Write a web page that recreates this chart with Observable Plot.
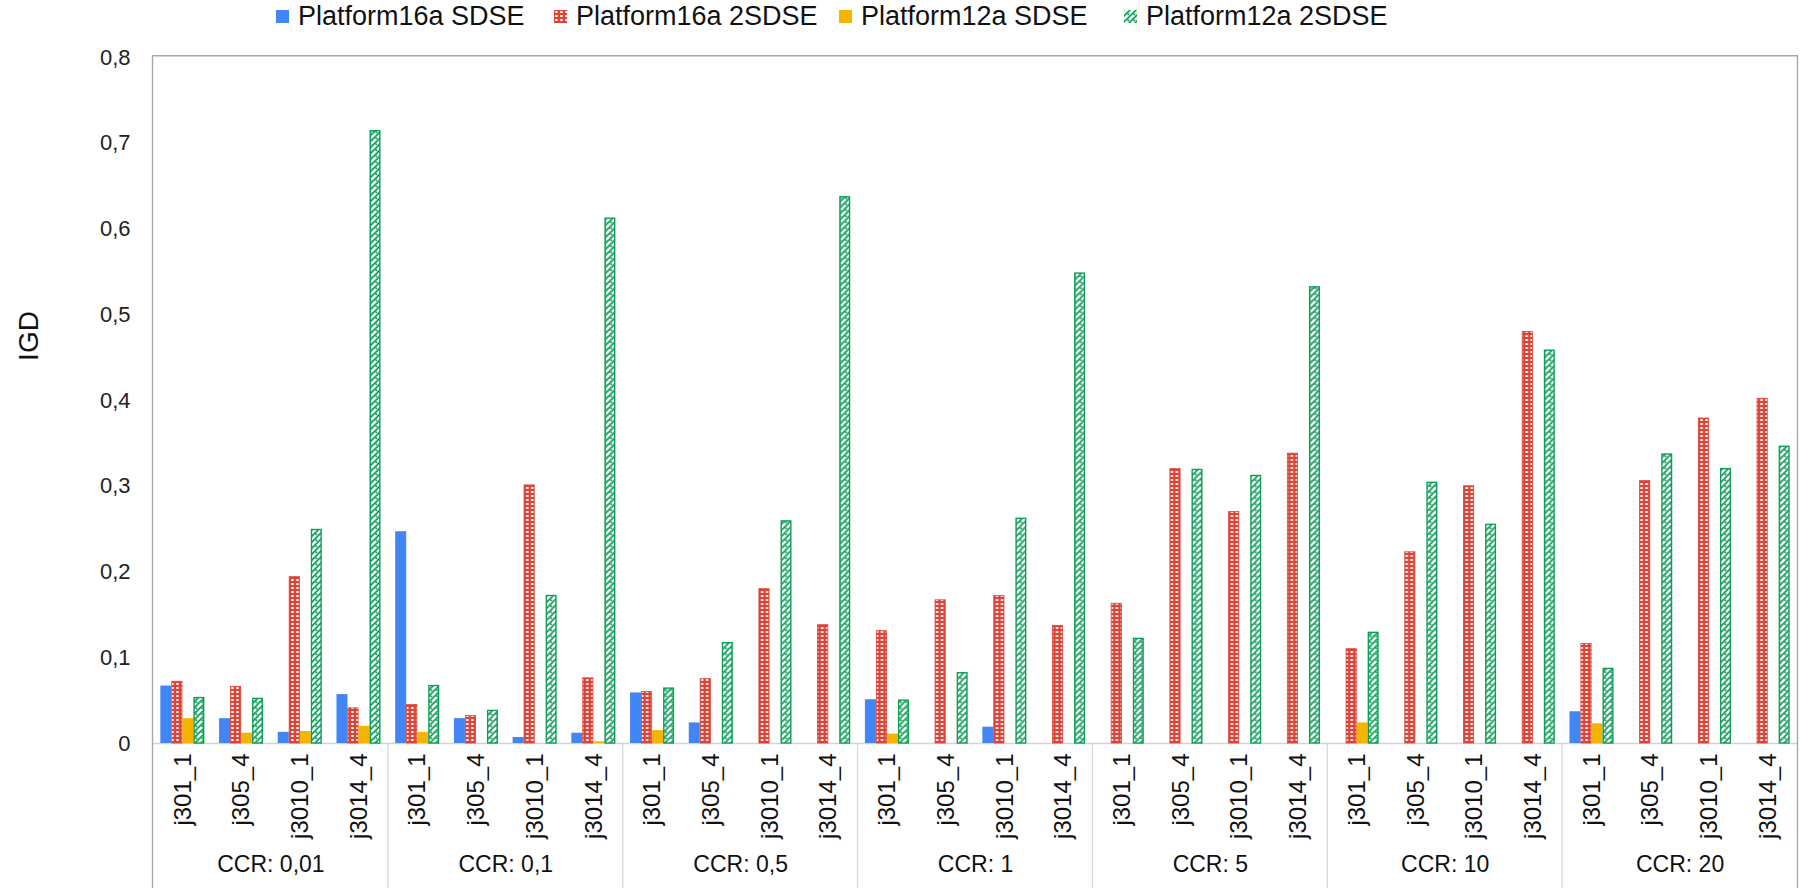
<!DOCTYPE html>
<html><head><meta charset="utf-8">
<script src="https://cdn.jsdelivr.net/npm/d3@7"></script>
<script src="https://cdn.jsdelivr.net/npm/@observablehq/plot@0.6"></script>
<style>
body{margin:0;background:#fff;font-family:"Liberation Sans",Arial,sans-serif;}
#legend{position:relative;height:38px;width:1801px;}
.item{position:absolute;top:0;height:33px;display:flex;align-items:center;font-size:27px;color:#111;white-space:nowrap;}
.item svg{margin-right:9px;}
#chart svg{display:block;}
</style></head><body>
<svg width="0" height="0" style="position:absolute">
<defs>
<pattern id="pRed" width="5" height="4" patternUnits="userSpaceOnUse">
 <rect width="5" height="4" fill="#DB4437"/>
 <rect x="1.3" y="1" width="2.3" height="2" fill="#fff"/>
</pattern>
<pattern id="pGreen" width="6" height="6" patternUnits="userSpaceOnUse">
 <rect width="6" height="6" fill="#fff"/>
 <path d="M0,6L6,0M-1,1L1,-1M5,7L7,5" stroke="#0F9D58" stroke-width="1.6"/>
 <rect x="3.4" y="3.4" width="1.9" height="1.9" fill="#0F9D58"/>
</pattern>
</defs></svg>
<div id="legend"></div>
<div id="chart"></div>
<script>
// ---- data ----
const ccrs = ["0,01","0,1","0,5","1","5","10","20"];
const jobs = ["j301_1","j305_4","j3010_1","j3014_4"];
const seriesNames = ["Platform16a SDSE","Platform16a 2SDSE","Platform12a SDSE","Platform12a 2SDSE"];
// values ordered CCR-major, then job
const p16SDSE = [
  0.067,0.029,0.013,0.057,
  0.247,0.029,0.007,0.012,
  0.059,0.024,0,0,
  0.051,0,0.019,0,
  0,0,0,0,
  0,0,0,0,
  0.037,0,0,0
];
const p16_2SDSE = [
  0.072,0.066,0.194,0.041,
  0.045,0.032,0.301,0.076,
  0.060,0.075,0.180,0.138,
  0.131,0.167,0.172,0.137,
  0.163,0.320,0.270,0.338,
  0.110,0.223,0.300,0.480,
  0.116,0.306,0.379,0.402
];
const p12SDSE = [
  0.029,0.012,0.014,0.020,
  0.013,0,0,0.002,
  0.015,0,0,0,
  0.011,0,0,0,
  0,0,0,0,
  0.024,0,0,0,
  0.023,0,0,0
];
const p12_2SDSE = [
  0.053,0.052,0.249,0.714,
  0.067,0.038,0.172,0.612,
  0.064,0.117,0.259,0.637,
  0.050,0.082,0.262,0.548,
  0.122,0.319,0.312,0.532,
  0.129,0.304,0.255,0.458,
  0.087,0.337,0.320,0.346
];
const yTicks = [0,0.1,0.2,0.3,0.4,0.5,0.6,0.7,0.8];

// ---- table ----
const seriesValues = [p16SDSE, p16_2SDSE, p12SDSE, p12_2SDSE];
const rows = [];
ccrs.forEach((c,i)=>jobs.forEach((j,k)=>seriesValues.forEach((vals,s)=>
  rows.push({ccr:c, job:j, series:seriesNames[s], s, value:vals[i*jobs.length+k]}))));

const fills = ["#4285F4","url(#pRed)","#F4B400","url(#pGreen)"];
const strokes = ["none","#DB4437","none","#0F9D58"];
const strokeWidths = [0,0.8,0,1.4];

// ---- legend ----
const legendLeft = [276, 554, 839, 1124];
const legend = document.getElementById("legend");
seriesNames.forEach((n,s)=>{
  const it = document.createElement("div");
  it.className = "item";
  it.style.left = legendLeft[s] + "px";
  it.innerHTML = `<svg width="13" height="13"><rect width="13" height="13" fill="${fills[s]}"/></svg><span>${n}</span>`;
  legend.appendChild(it);
});

// ---- chart ----
const W = 1801, H = 853, mL = 153, mR = 4, mT = 19, mB = 148;
const fmt = d => d === 0 ? "0" : d.toFixed(1).replace(".", ",");

function build(bw4){
  return Plot.plot({
    width:W, height:H, marginLeft:mL, marginRight:mR, marginTop:mT, marginBottom:mB,
    style:{fontFamily:"'Liberation Sans', Arial, sans-serif", background:"#fff", overflow:"visible"},
    fx:{domain:ccrs, padding:0, round:false, axis:null, label:null},
    x:{domain:jobs, paddingInner:0.25, paddingOuter:0.125, round:false, axis:null, label:null},
    y:{domain:[0,0.8], axis:null, label:null},
    marks:[
      Plot.ruleY([0], {stroke:"#d3d3d3", strokeWidth:1.4}),
      ...seriesNames.map((n,s)=>Plot.barY(rows.filter(d=>d.s===s && d.value>0), {
        fx:"ccr", x:"job", y:"value",
        fill:fills[s], stroke:strokes[s], strokeWidth:strokeWidths[s],
        insetLeft:s*bw4 + (strokeWidths[s]/2), insetRight:(3-s)*bw4 + (strokeWidths[s]/2)
      })),
      Plot.axisY({ticks:yTicks, tickSize:0, tickPadding:23, tickFormat:fmt, fontSize:22, fill:"#222", label:null}),
      Plot.axisX({tickSize:0, tickRotate:-90, tickPadding:10, fontSize:24, fill:"#111", label:null}),
      Plot.text(ccrs, {fx:d=>d, text:d=>"CCR: " + d, frameAnchor:"bottom", dy:128, fontSize:23, fill:"#111"})
    ]
  });
}

let probe = build(0);
let bw = (probe.scale("x") && probe.scale("x").bandwidth) || ((W-mL-mR)/ccrs.length/4*0.75);
const plot = build(bw/4);
document.getElementById("chart").appendChild(plot);

// ---- frame, separators, y label ----
const svg = d3.select(plot);
const fw = (W - mL - mR) / ccrs.length;
const base = H - mB;
const bottom = 850;
const g = svg.append("g").attr("fill","none");
g.append("path").attr("d", `M${mL-0.5},${bottom}V${mT-1.2}H${W-mR+0.5}V${bottom}`)
  .attr("stroke","#a8a8a8").attr("stroke-width",1.4);
for (let i = 1; i < ccrs.length; i++) {
  g.append("line").attr("x1", mL + i*fw).attr("x2", mL + i*fw)
   .attr("y1", base).attr("y2", bottom).attr("stroke","#dadada").attr("stroke-width",1.4);
}
svg.append("text").text("IGD")
  .attr("transform", `translate(31,298) rotate(-90)`)
  .attr("text-anchor","middle").attr("dominant-baseline","middle")
  .attr("font-size",28).attr("fill","#111");
</script>
</body></html>
